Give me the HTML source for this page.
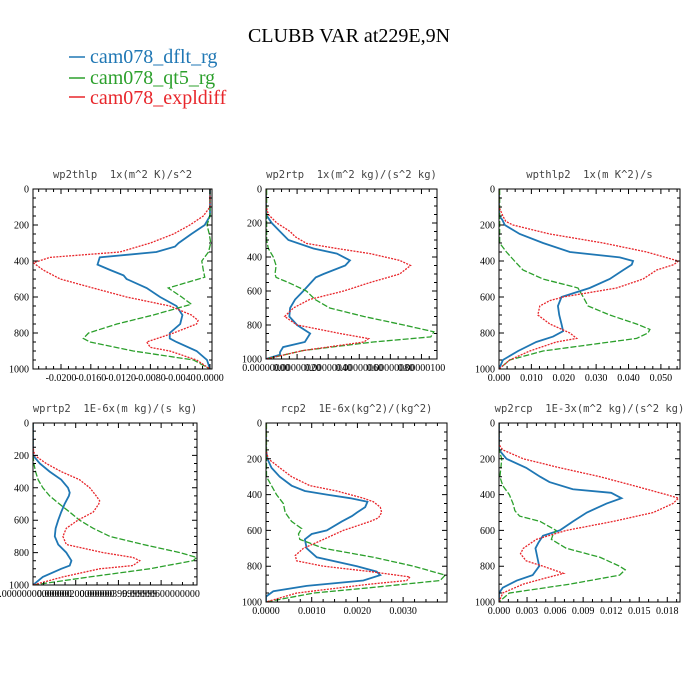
<!DOCTYPE html>
<html><head><meta charset="utf-8"><style>
body{margin:0;background:#fff;}
svg{display:block;}
.tk{font-family:"Liberation Serif",serif;font-size:10px;fill:#000;}
.pt{font-family:"DejaVu Sans Mono","Liberation Mono",monospace;font-size:10.5px;fill:#444;white-space:pre;}
</style></head><body>
<svg id="chart" width="700" height="700" viewBox="0 0 700 700">
<text x="349" y="42" text-anchor="middle" font-family="Liberation Serif, serif" font-size="20">CLUBB VAR at229E,9N</text>
<g>
<line x1="69" y1="57" x2="85" y2="57" stroke="#1f77b4" stroke-width="1.5"/>
<text x="90" y="63" font-family="Liberation Serif, serif" font-size="20" fill="#1f77b4">cam078_dflt_rg</text>
<line x1="69" y1="78" x2="85" y2="78" stroke="#2ca02c" stroke-width="1.5"/>
<text x="90" y="84" font-family="Liberation Serif, serif" font-size="20" fill="#2ca02c">cam078_qt5_rg</text>
<line x1="69" y1="97" x2="85" y2="97" stroke="#e8262b" stroke-width="1.5"/>
<text x="90" y="104" font-family="Liberation Serif, serif" font-size="20" fill="#e8262b">cam078_expldiff</text>
</g>
</svg>
<script>
// ---- data ----
const p1Lev=[0,150,200,250,300,320,350,380,420,450,480,500,550,600,650,700,750,800,830,850,900,950,1000];
const p1Blue=[0,0,-0.0007,-0.0025,-0.0042,-0.0047,-0.0072,-0.0148,-0.0151,-0.0134,-0.0116,-0.0112,-0.0085,-0.0067,-0.0045,-0.0037,-0.004,-0.0054,-0.0054,-0.0045,-0.0018,-0.0004,0];
const p1RLev=[0,100,150,200,250,300,350,380,410,450,500,550,600,650,700,730,750,800,850,880,900,950,1000];
const p1Red=[0,0,-0.0009,-0.0027,-0.0049,-0.008,-0.0121,-0.0215,-0.0237,-0.0224,-0.0201,-0.0157,-0.0112,-0.0054,-0.0025,-0.0016,-0.0018,-0.0049,-0.0085,-0.008,-0.0054,-0.0018,0];
const p1GLev=[0,150,200,250,300,350,400,450,490,550,600,640,700,750,800,830,850,900,950,1000];
const p1Green=[0,0,-0.0004,-0.0001,0.0001,-0.0002,-0.0011,-0.0009,-0.0007,-0.0056,-0.0038,-0.0025,-0.0076,-0.0125,-0.0163,-0.017,-0.0161,-0.0103,-0.0022,0];

const p2BLev=[0,150,200,250,300,350,380,420,450,500,520,600,650,700,750,800,850,900,930,960,975,1000];
const p2Blue=[0,0,0.037,0.09,0.144,0.305,0.456,0.54,0.51,0.37,0.32,0.24,0.187,0.155,0.15,0.2,0.284,0.25,0.11,0.09,0.09,0];
const p2RLev=[0,100,150,200,250,280,320,350,380,420,450,500,550,600,650,700,750,800,850,880,900,950,1000];
const p2Red=[0,0,0.015,0.07,0.155,0.187,0.26,0.456,0.67,0.86,0.93,0.86,0.67,0.5,0.28,0.176,0.12,0.2,0.476,0.66,0.63,0.24,0];
const p2GLev=[0,300,350,400,450,500,520,550,600,650,700,750,800,840,870,900,950,1000];
const p2Green=[0.004,0.004,0.015,0.047,0.065,0.058,0.065,0.144,0.26,0.316,0.41,0.63,0.886,1.08,1.06,0.69,0.24,0];

const p3BLev=[0,150,170,200,250,300,350,380,400,420,450,500,550,600,650,700,750,790,820,850,900,950,1000];
const p3Blue=[0,0,0.001,0.0018,0.0064,0.0136,0.0219,0.0373,0.0414,0.041,0.0384,0.0342,0.028,0.0193,0.0182,0.0186,0.0193,0.0198,0.0167,0.0115,0.0059,0.0012,0];
const p3RLev=[0,100,150,180,200,250,300,350,400,420,450,500,550,600,620,650,700,750,800,830,850,900,950,1000];
const p3Red=[0,0,0.0012,0.0021,0.0043,0.0157,0.0322,0.0456,0.0554,0.054,0.0487,0.0445,0.0363,0.0198,0.0157,0.0126,0.012,0.0157,0.0219,0.024,0.0177,0.0095,0.0033,0];
const p3GLev=[0,300,350,400,450,500,550,600,650,700,750,780,800,830,870,900,950,1000];
const p3Green=[0.0002,0.0002,0.0023,0.0048,0.0074,0.0136,0.0244,0.026,0.0275,0.0342,0.0425,0.0466,0.046,0.0425,0.026,0.0136,0.0033,0];

const p4BLev=[0,200,250,300,350,400,430,450,500,550,600,650,700,750,800,850,880,900,950,1000];
const p4Blue=[0,0,0.16,0.39,0.66,0.82,0.86,0.84,0.74,0.66,0.59,0.53,0.51,0.59,0.78,0.9,0.86,0.66,0.23,0];
const p4RLev=[0,150,200,250,300,350,400,450,480,500,550,600,650,700,750,800,830,850,880,900,950,1000];
const p4Red=[0,0,0.04,0.31,0.66,1.09,1.33,1.48,1.56,1.54,1.41,1.05,0.78,0.7,0.78,1.64,2.34,2.5,2.34,1.56,0.7,0];
const p4GLev=[0,200,250,300,350,400,450,500,550,600,650,700,750,800,830,850,900,950,1000];
const p4Green=[0,0,0.02,0.06,0.12,0.23,0.39,0.62,0.86,1.09,1.41,1.8,2.58,3.44,3.83,3.75,2.73,1.33,0];

const p5BLev=[0,150,200,250,300,350,380,400,420,440,470,500,520,550,600,620,650,700,750,800,830,850,880,910,940,970,1000];
const p5Blue=[0,0,0.00003,0.00012,0.0003,0.00056,0.00085,0.00133,0.00184,0.00222,0.00217,0.00199,0.00188,0.00166,0.00133,0.001,0.00085,0.00089,0.00111,0.00199,0.00242,0.0025,0.00213,0.00089,0.00016,0,0];
const p5RLev=[0,150,200,250,300,350,380,420,440,470,500,530,550,600,650,700,740,770,800,830,860,880,900,950,1000];
const p5Red=[0,0,0.00005,0.0003,0.00056,0.00096,0.00155,0.00213,0.00235,0.0025,0.00253,0.00246,0.00228,0.00169,0.00126,0.00082,0.00064,0.00067,0.00126,0.00228,0.00315,0.00308,0.00228,0.00067,0];
const p5GLev=[0,300,350,400,450,500,550,590,620,650,700,750,800,850,880,920,950,1000];
const p5Green=[0.00001,0.00001,0.00012,0.00023,0.00038,0.00042,0.00056,0.00078,0.00071,0.00074,0.00126,0.00235,0.00323,0.00392,0.00381,0.00228,0.00104,0];

const p6BLev=[0,150,200,250,300,330,370,390,420,450,500,550,600,630,670,700,750,800,850,880,920,950,1000];
const p6Blue=[0,0,0.0008,0.0029,0.0044,0.0054,0.0079,0.012,0.0131,0.0115,0.0094,0.0079,0.0065,0.0047,0.0042,0.0039,0.0041,0.0043,0.0036,0.0019,0.0004,0,0];
const p6RLev=[0,120,150,200,250,300,350,400,420,450,500,550,600,650,700,730,770,800,840,870,900,950,1000];
const p6Red=[0,0,0.0004,0.0026,0.0065,0.0108,0.0144,0.0179,0.0192,0.0186,0.0165,0.0122,0.0072,0.004,0.0026,0.0023,0.0029,0.0047,0.0069,0.0047,0.0026,0.0004,0];
const p6GLev=[0,150,200,300,350,400,450,490,520,550,600,620,650,700,750,800,820,850,900,950,1000];
const p6Green=[0,0,0.0003,0.0001,0.0004,0.0011,0.0015,0.0017,0.0022,0.0044,0.0061,0.0058,0.0056,0.0072,0.0108,0.0129,0.0135,0.0129,0.0076,0.0011,0];

const p1Ticks=[-0.02,-0.016,-0.012,-0.008,-0.004,0];
const p1Labels=["-0.0200","-0.0160","-0.0120","-0.0080","-0.0040","0.0000"];
const p2Ticks=[0,0.2,0.4,0.6,0.8,1.0];
const p2Labels=["0.00000000","0.00000020","0.00000040","0.00000060","0.00000080","0.00000100"];
const p3Ticks=[0,0.01,0.02,0.03,0.04,0.05];
const p3Labels=["0.000","0.010","0.020","0.030","0.040","0.050"];
const p4Ticks=[0,1,2,3];
const p4Labels=["0.00000000000000","0.00000200000000","0.00000399999999","0.00000600000000"];
const p5Ticks=[0,0.001,0.002,0.003];
const p5Labels=["0.0000","0.0010","0.0020","0.0030"];
const p6Ticks=[0,0.003,0.006,0.009,0.012,0.015,0.018];
const p6Labels=["0.000","0.003","0.006","0.009","0.012","0.015","0.018"];
const yTicks=[0,200,400,600,800,1000];

const panels=[
 {name:"wp2thlp",title:"wp2thlp  1x(m^2 K)/s^2",L:33,R:212,T:189,B:369,xmin:-0.02376,xmax:0.00027,ticks:p1Ticks,labels:p1Labels,minor:0.001,
  s:[[p1Lev,p1Blue],[p1GLev,p1Green],[p1RLev,p1Red]]},
 {name:"wp2rtp",title:"wp2rtp  1x(m^2 kg)/(s^2 kg)",L:266,R:437,T:189,B:359,xmin:0,xmax:1.1,ticks:p2Ticks,labels:p2Labels,minor:0.05,
  s:[[p2BLev,p2Blue],[p2GLev,p2Green],[p2RLev,p2Red]]},
 {name:"wpthlp2",title:"wpthlp2  1x(m K^2)/s",L:499,R:680,T:189,B:369,xmin:0,xmax:0.0559,ticks:p3Ticks,labels:p3Labels,minor:0.0025,
  s:[[p3BLev,p3Blue],[p3GLev,p3Green],[p3RLev,p3Red]]},
 {name:"wprtp2",title:"wprtp2  1E-6x(m kg)/(s kg)",L:33,R:197,T:423,B:585,xmin:0,xmax:3.84,ticks:p4Ticks,labels:p4Labels,minor:0.25,
  s:[[p4BLev,p4Blue],[p4GLev,p4Green],[p4RLev,p4Red]]},
 {name:"rcp2",title:"rcp2  1E-6x(kg^2)/(kg^2)",L:266,R:447,T:423,B:602,xmin:0,xmax:0.00396,ticks:p5Ticks,labels:p5Labels,minor:0.00025,
  s:[[p5BLev,p5Blue],[p5GLev,p5Green],[p5RLev,p5Red]]},
 {name:"wp2rcp",title:"wp2rcp  1E-3x(m^2 kg)/(s^2 kg)",L:499,R:680,T:423,B:602,xmin:0,xmax:0.01936,ticks:p6Ticks,labels:p6Labels,minor:0.001,
  s:[[p6BLev,p6Blue],[p6GLev,p6Green],[p6RLev,p6Red]]}
];
const colors=["#1f77b4","#2ca02c","#e8262b"];
const dashes=["","6,2","2,1.2"];
const widths=[1.8,1.3,1.3];
const seriesNames=["dflt","qt5","expldiff"];

const svg=document.getElementById('chart');
const NS="http://www.w3.org/2000/svg";
function mk(tag,attrs,parent){const e=document.createElementNS(NS,tag);for(const k in attrs)e.setAttribute(k,attrs[k]);parent.appendChild(e);return e;}

panels.forEach(p=>{
 const g=mk('g',{},svg);
 
 
 const xs=v=>p.L+(v-p.xmin)/(p.xmax-p.xmin)*(p.R-p.L);
 const ys=v=>p.T+v/1000*(p.B-p.T);
 const t=mk('text',{x:(p.L+p.R)/2,y:p.T-11,'text-anchor':'middle',class:'pt'},g);
 t.textContent=p.title;
 
 
 const clip=mk('clipPath',{id:'c-'+p.name},g);
 mk('rect',{x:p.L,y:p.T,width:p.R-p.L,height:p.B-p.T},clip);
 p.s.forEach((sr,i)=>{
  const lev=sr[0],val=sr[1];
  const d=lev.map((l,k)=>(k?'L':'M')+xs(val[k]).toFixed(2)+','+ys(l).toFixed(2)).join(' ');
  const path=mk('path',{d:d,fill:'none',stroke:colors[i],'stroke-width':widths[i],'stroke-dasharray':dashes[i],'clip-path':'url(#c-'+p.name+')'},g);
  
  
 });
 const fr=mk('rect',{x:p.L,y:p.T,width:p.R-p.L,height:p.B-p.T,fill:'none',stroke:'#000','stroke-width':1},g);
 
 
 let tp='';
 for(let v=0;v<=1000;v+=50){const y=ys(v),len=(v%200===0)?5:3;tp+=`M${p.L},${y}h${len}M${p.R},${y}h${-len}`;}
 const start=Math.ceil(p.xmin/p.minor-1e-6);
 for(let k=start;k*p.minor<=p.xmax+1e-12;k++){const v=k*p.minor;const x=xs(v);const maj=p.ticks.some(tv=>Math.abs(tv-v)<p.minor*0.1);const len=maj?5:3;tp+=`M${x},${p.B}v${-len}M${x},${p.T}v${len}`;}
 const tk=mk('path',{d:tp,stroke:'#000','stroke-width':1,fill:'none'},g);
 
 
 yTicks.forEach(v=>{const l=mk('text',{x:p.L-4,y:ys(v)+3.5,'text-anchor':'end',class:'tk'},g);l.textContent=String(v);
  
  });
 p.ticks.forEach((v,k)=>{const l=mk('text',{x:xs(v),y:p.B+12,'text-anchor':'middle',class:'tk'},g);l.textContent=p.labels[k];
  
  });
});
</script>
</body></html>
